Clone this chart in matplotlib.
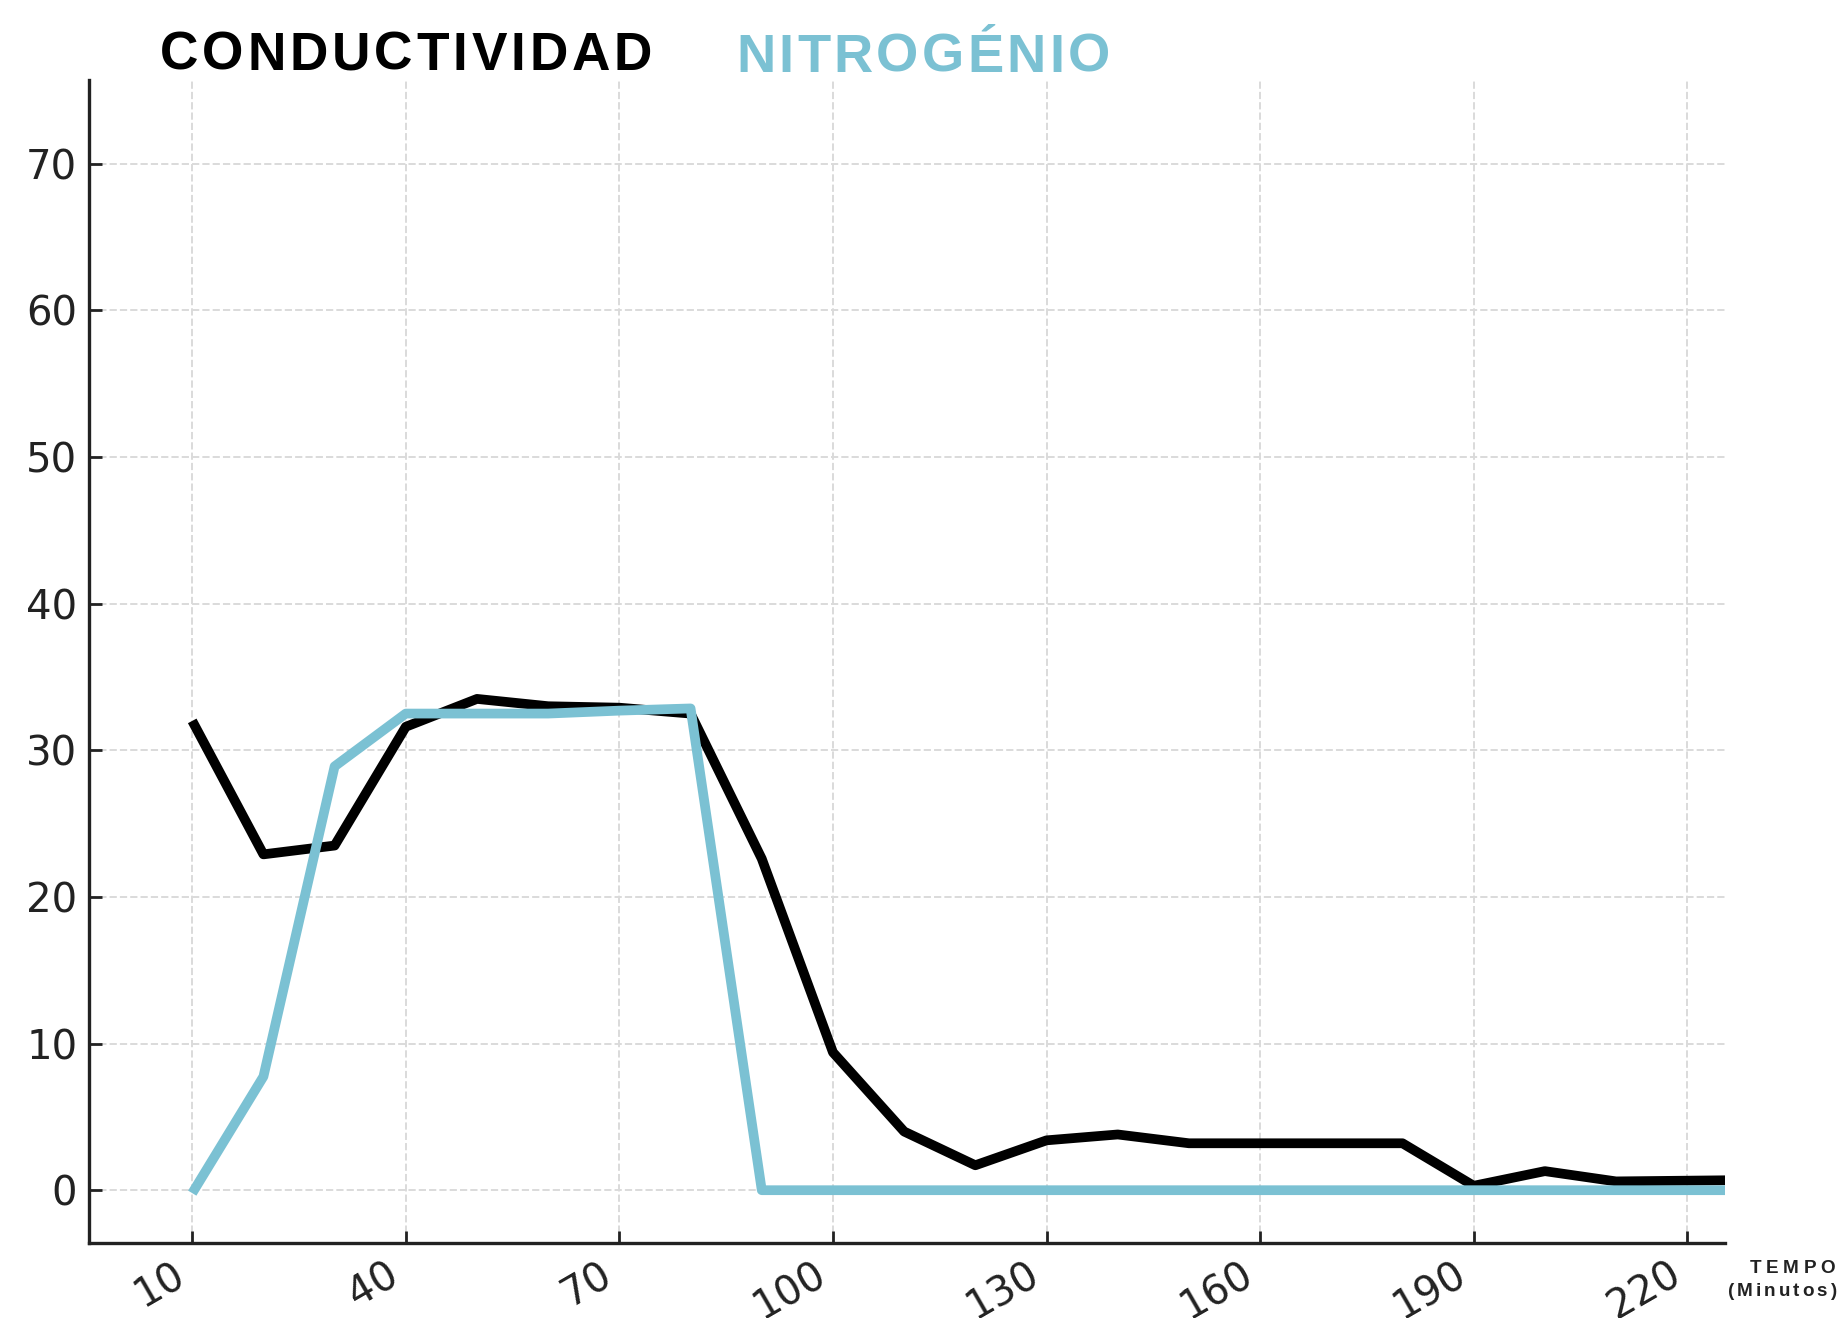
import matplotlib
matplotlib.use("Agg")
import matplotlib.pyplot as plt
from matplotlib import font_manager

# tempo (minutos)
tempo = [10, 20, 30, 40, 50, 60, 70, 80, 90, 100, 110, 120, 130, 140, 150,
         160, 170, 180, 190, 200, 210, 220, 230]
conductividad = [32.0, 22.9, 23.5, 31.6, 33.5, 33.0, 32.9, 32.5, 22.6, 9.4,
                 4.0, 1.7, 3.4, 3.8, 3.2, 3.2, 3.2, 3.2, 0.3, 1.3, 0.6, 0.65, 0.7]
nitrogenio = [-0.2, 7.75, 28.9, 32.5, 32.5, 32.5, 32.7, 32.85, 0, 0,
              0, 0, 0, 0, 0, 0, 0, 0, 0, 0, 0, 0, 0]
xticks = [10, 40, 70, 100, 130, 160, 190, 220]
yticks = [0, 10, 20, 30, 40, 50, 60, 70]

BLUE = "#7bc1d3"
W, H = 1839, 1318

names = {f.name for f in font_manager.fontManager.ttflist}
NARROW = "Liberation Sans Narrow" if "Liberation Sans Narrow" in names else "Liberation Sans"


def spaced_text(fig, x0, x1, y, s, size, color, family="Liberation Sans"):
    # draw s letter by letter so it spans x0..x1 (pixels), baseline at y
    r = fig.canvas.get_renderer()
    widths = []
    for ch in s:
        t = fig.text(0, 0, ch, size=size, weight="bold", family=family)
        widths.append(t.get_window_extent(r).width)
        t.remove()
    gap = (x1 - x0 - sum(widths)) / (len(s) - 1)
    x = x0
    for ch, w in zip(s, widths):
        fig.text(x / W, 1 - y / H, ch, size=size, weight="bold", family=family,
                 color=color, ha="left", va="baseline")
        x += w + gap


fig = plt.figure(figsize=(W / 200, H / 200), dpi=200)
ax = fig.add_axes([89 / W, 1 - 1243 / H, (1725 - 89) / W, (1243 - 80) / H])

ax.plot(tempo, conductividad, color="black", lw=3.5, solid_capstyle="butt", zorder=3)
ax.plot(tempo, nitrogenio, color=BLUE, lw=3.5, solid_capstyle="butt", zorder=4)

ax.set_xlim(-4.5, 225.3)
ax.set_ylim(-3.6, 75.7)
ax.set_xticks(xticks)
ax.set_yticks(yticks)
ax.tick_params(direction="in", length=4.5, width=1.0, colors="#222222",
               labelsize=14.5, pad=4.2)
plt.setp(ax.get_xticklabels(), rotation=30, ha="right")
ax.grid(True, ls="--", color="#dadada", lw=0.7)
ax.set_axisbelow(True)

for s in ["top", "right"]:
    ax.spines[s].set_visible(False)
for s in ["left", "bottom"]:
    ax.spines[s].set_color("#222222")
    ax.spines[s].set_linewidth(1.2)

spaced_text(fig, 160, 652, 70, "CONDUCTIVIDAD", 19.2, "black")
spaced_text(fig, 736, 1110, 72, "NITROGÉNIO", 19.6, BLUE, family=NARROW)
spaced_text(fig, 1750, 1835, 1273, "TEMPO", 6.8, "#222222")
spaced_text(fig, 1728, 1836, 1296, "(Minutos)", 6.8, "#222222")

fig.savefig("out.png", dpi=200)
